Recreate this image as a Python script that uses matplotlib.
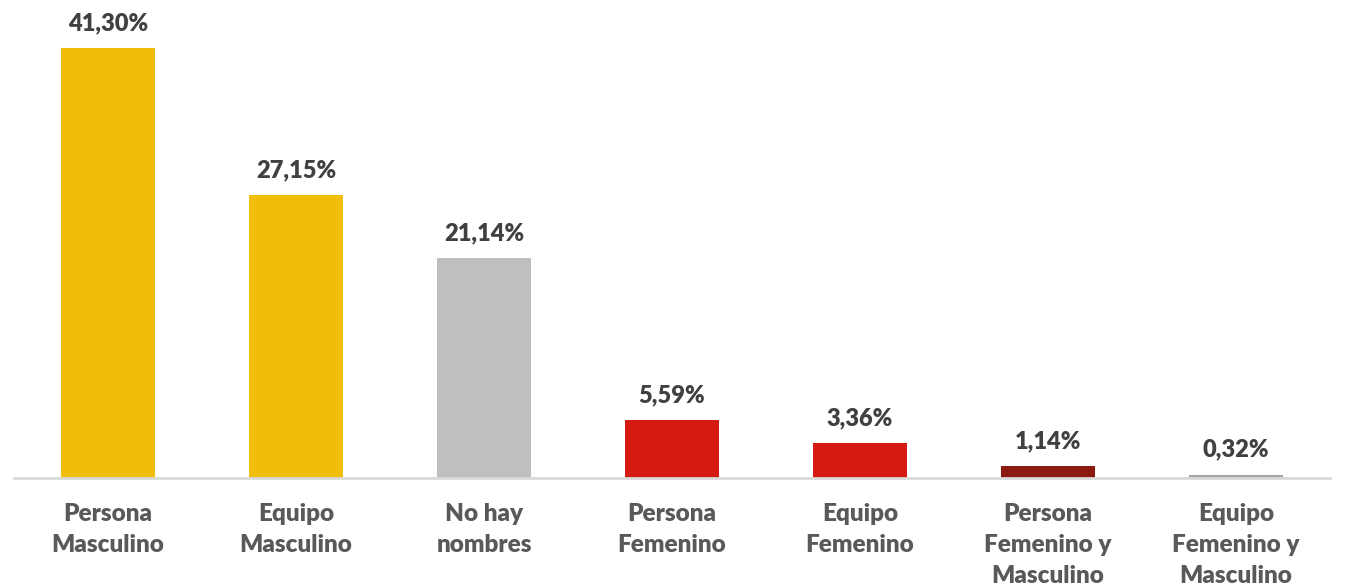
import matplotlib.pyplot as plt

categorias = ["Persona\nMasculino", "Equipo\nMasculino", "No hay\nnombres",
              "Persona\nFemenino", "Equipo\nFemenino",
              "Persona\nFemenino y\nMasculino", "Equipo\nFemenino y\nMasculino"]
valores = [41.30, 27.15, 21.14, 5.59, 3.36, 1.14, 0.32]
etiquetas = ["41,30%", "27,15%", "21,14%", "5,59%", "3,36%", "1,14%", "0,32%"]
colores = ["#F0BE08", "#F0BE08", "#BFBFBF", "#D51A12", "#D51A12", "#8B1A10", "#A6A6A6"]

plt.rcParams['font.family'] = ['Lato', 'DejaVu Sans']

fig = plt.figure(figsize=(13.45, 5.86), dpi=100)
ax = fig.add_axes([0.0104, 0.1843, 0.9785, 0.7995])

x = range(len(valores))
ax.bar(x, valores, width=0.5, color=colores, zorder=2)

for i, v in enumerate(valores):
    ax.annotate(etiquetas[i], (i, v), xytext=(0, 10), textcoords="offset points",
                ha="center", va="bottom", fontsize=17, fontweight="heavy", color="#404040")

ax.set_xlim(-0.5, 6.5)
ax.set_ylim(0, 45)
ax.set_xticks(list(x))
ax.set_xticklabels(categorias, fontsize=17.5, fontweight="heavy", color="#595959",
                   linespacing=1.5, va="top")
ax.tick_params(axis="x", length=0, pad=18)
ax.set_yticks([])
for s in ["top", "right", "left"]:
    ax.spines[s].set_visible(False)
ax.spines["bottom"].set_color("#D9D9D9")
ax.spines["bottom"].set_linewidth(2)

fig.savefig("out.png", dpi=100)
